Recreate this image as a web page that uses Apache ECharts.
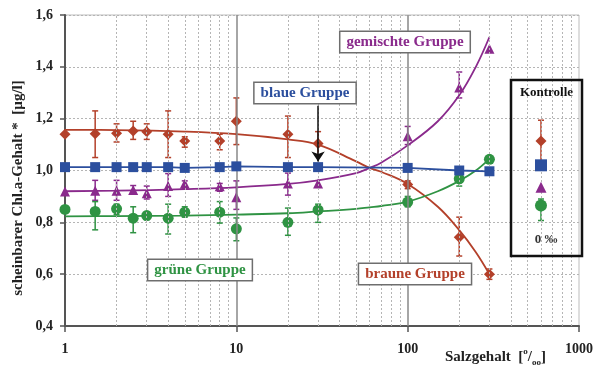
<!DOCTYPE html>
<html>
<head>
<meta charset="utf-8">
<script src="https://cdn.jsdelivr.net/npm/echarts@6/dist/echarts.min.js"></script>
<style>
  html, body { margin: 0; padding: 0; background: #fff; }
  #chart { width: 596px; height: 367px; }
</style>
</head>
<body>
<div id="chart"></div>
<script>
// Salzgehalt (x) der Messpunkte
const salz = [1, 1.5, 2, 2.5, 3, 4, 5, 8, 10, 20, 30, 100, 200, 300];

// braune Gruppe
const braun   = [1.14, 1.142, 1.144, 1.152, 1.15, 1.14, 1.114, 1.114, 1.19, 1.14, 1.104, 0.946, 0.742, 0.60];
const braunLo = [null, 1.05, 1.11, 1.12, 1.12, 1.05, 1.09, 1.08, 1.10, 1.05, 1.06, 0.93, 0.67, 0.58];
const braunHi = [null, 1.23, 1.18, 1.19, 1.18, 1.23, 1.13, 1.14, 1.28, 1.21, 1.15, 0.96, 0.82, 0.62];

// blaue Gruppe
const blau = [1.013, 1.013, 1.013, 1.013, 1.013, 1.013, 1.01, 1.013, 1.016, 1.013, 1.013, 1.01, 1.0, 0.997];

// gemischte Gruppe
const lila   = [0.919, 0.922, 0.922, 0.925, 0.912, 0.94, 0.949, 0.939, 0.897, 0.95, 0.95, 1.132, 1.32, 1.47];
const lilaLo = [null, 0.885, 0.885, 0.91, 0.89, 0.90, 0.93, 0.92, 0.85, 0.905, null, 1.10, 1.28, null];
const lilaHi = [null, 0.962, 0.962, 0.942, 0.94, 0.988, 0.96, 0.95, 0.96, 0.99, null, 1.17, 1.38, null];

// grüne Gruppe
const gruen   = [0.85, 0.842, 0.852, 0.816, 0.826, 0.816, 0.839, 0.839, 0.775, 0.80, 0.848, 0.878, 0.968, 1.043];
const gruenLo = [null, 0.771, 0.83, 0.76, 0.81, 0.755, 0.82, 0.797, 0.729, 0.75, 0.80, 0.86, 0.94, null];
const gruenHi = [null, 0.88, 0.87, 0.86, 0.84, 0.87, 0.86, 0.88, 0.817, 0.855, 0.87, 0.90, 0.99, null];

// Ausgleichskurven
const fitX     = [1, 2, 5, 10, 20, 30, 50, 60, 70, 100, 150, 200, 250, 300];
const braunFit = [1.157, 1.156, 1.15, 1.14, 1.12, 1.10, 1.035, 1.01, 0.995, 0.948, 0.86, 0.77, 0.685, 0.60];
const lilaFit  = [0.92, 0.922, 0.928, 0.935, 0.948, 0.962, 0.99, 1.01, 1.03, 1.097, 1.19, 1.29, 1.40, 1.515];
const gruenFit = [0.823, 0.824, 0.826, 0.83, 0.835, 0.842, 0.852, 0.858, 0.863, 0.88, 0.92, 0.96, 1.0, 1.045];

// Kontrolle (0 ‰), im Kasten bei x = 600 gezeichnet
const kontrollX = 600;
const kontrolle = { braun: 1.114, blau: 1.02, lila: 0.935, gruen: 0.865 };
const kontrolleLo = { braun: 1.03, gruen: 0.807 };
const kontrolleHi = { braun: 1.194, gruen: 0.89 };

// Gitter
const minorX = [2, 3, 4, 5, 6, 7, 8, 9, 20, 30, 40, 50, 60, 70, 80, 90, 200, 300, 400, 500, 600, 700, 800, 900];
const majorX = [10, 100];

const C = {
  braun: '#b3402a',
  blau: '#2c4f9e',
  lila: '#8a2a8c',
  gruen: '#2f9343',
};
const serif = '"Liberation Serif", "DejaVu Serif", serif';

function pairs(xs, ys) {
  return xs.map((x, i) => [x, ys[i]]);
}

function errData(xs, lo, hi) {
  const out = [];
  xs.forEach((x, i) => {
    if (lo[i] != null && hi[i] != null) out.push([x, lo[i], hi[i]]);
  });
  return out;
}

function errorSeries(data, color) {
  return {
    type: 'custom',
    data: data,
    z: 3,
    silent: true,
    encode: { x: 0, y: [1, 2] },
    renderItem(params, api) {
      const x = api.value(0);
      const lo = api.coord([x, api.value(1)]);
      const hi = api.coord([x, api.value(2)]);
      const w = 3;
      const style = { stroke: color, lineWidth: 1.5 };
      return {
        type: 'group',
        children: [
          { type: 'line', shape: { x1: lo[0], y1: lo[1], x2: hi[0], y2: hi[1] }, style },
          { type: 'line', shape: { x1: lo[0] - w, y1: lo[1], x2: lo[0] + w, y2: lo[1] }, style },
          { type: 'line', shape: { x1: hi[0] - w, y1: hi[1], x2: hi[0] + w, y2: hi[1] }, style },
        ],
      };
    },
  };
}

function fitSeries(ys, color) {
  return {
    type: 'line',
    data: pairs(fitX, ys),
    smooth: 0.4,
    symbol: 'none',
    z: 2,
    lineStyle: { color: color, width: 1.8 },
    silent: true,
  };
}

function pointSeries(ys, color, symbol, size) {
  return {
    type: 'scatter',
    data: pairs(salz, ys),
    symbol: symbol,
    symbolSize: size,
    itemStyle: { color: color, opacity: 1 },
    z: 4,
    clip: false,
  };
}

function boxLabel(text, cx, cy, color) {
  return {
    type: 'text',
    x: cx,
    y: cy,
    z: 20,
    style: {
      text: text,
      align: 'center',
      verticalAlign: 'middle',
      font: 'bold 15px ' + serif,
      fill: color,
      backgroundColor: '#fff',
      borderColor: '#6e6e6e',
      borderWidth: 1.5,
      padding: [3, 6, 2, 6],
    },
  };
}

const chart = echarts.init(document.getElementById('chart'));

const option = {
  animation: false,
  grid: {
    left: 65, right: 14, top: 15, bottom: 41,
    show: true,
    borderColor: '#bdbdbd',
    borderWidth: 1,
  },
  xAxis: {
    type: 'log',
    logBase: 10,
    min: 1,
    max: 1000,
    axisLine: { lineStyle: { color: '#555', width: 2 } },
    axisTick: { show: true, length: 6, lineStyle: { color: '#555', width: 1.5 } },
    axisLabel: {
      margin: 16,
      fontFamily: serif, fontWeight: 'bold', fontSize: 14, color: '#222',
      formatter: (v) => String(Math.round(v)),
    },
    splitLine: { show: false },
  },
  yAxis: {
    type: 'value',
    min: 0.4,
    max: 1.6,
    interval: 0.2,
    axisLine: { show: true, lineStyle: { color: '#555', width: 2 } },
    axisTick: { show: true, length: 5, lineStyle: { color: '#555', width: 1.5 } },
    axisLabel: {
      margin: 12,
      fontFamily: serif, fontWeight: 'bold', fontSize: 14, color: '#222',
      formatter: (v) => v.toFixed(1).replace('.', ','),
    },
    splitLine: { show: true, lineStyle: { color: '#b5b5b5', type: [2, 2], width: 1 } },
  },
  graphic: [
    {
      type: 'text', x: 18, y: 188, rotation: Math.PI / 2, z: 21,
      style: {
        text: 'scheinbarer Chl.a-Gehalt *  [µg/l]',
        align: 'center', verticalAlign: 'middle',
        font: 'bold 15px ' + serif, fill: '#222',
      },
    },
    boxLabel('blaue Gruppe', 305, 93, C.blau),
    boxLabel('gemischte Gruppe', 405, 42, C.lila),
    boxLabel('grüne Gruppe', 200, 270, C.gruen),
    boxLabel('braune Gruppe', 415, 274, C.braun),
    {
      type: 'rect',
      shape: { x: 511, y: 80, width: 71, height: 176 },
      style: { fill: 'none', stroke: '#111', lineWidth: 2.5 },
      z: 20,
    },
    {
      type: 'text', x: 546.5, y: 93, z: 21,
      style: {
        text: 'Kontrolle', align: 'center', verticalAlign: 'middle',
        font: 'bold 13px ' + serif, fill: '#111',
      },
    },
    {
      type: 'text', x: 546, y: 240, z: 21,
      style: {
        text: '0 ‰', align: 'center', verticalAlign: 'middle',
        font: 'bold 13px ' + serif, fill: '#333',
      },
    },
    {
      type: 'text', x: 445, y: 357, z: 21,
      style: {
        text: 'Salzgehalt  [{sup|o}/{sub|oo}]',
        verticalAlign: 'middle',
        font: 'bold 15px ' + serif, fill: '#222',
        lineHeight: 20,
        rich: {
          sup: { fontSize: 9, fontWeight: 'bold', fontFamily: serif, fill: '#222', verticalAlign: 'top', lineHeight: 20 },
          sub: { fontSize: 9, fontWeight: 'bold', fontFamily: serif, fill: '#222', verticalAlign: 'bottom', lineHeight: 20 },
        },
      },
    },
  ],
  series: [
    // Gitterlinien
    {
      type: 'line',
      data: [],
      silent: true,
      z: 1,
      markLine: {
        silent: true,
        symbol: 'none',
        label: { show: false },
        animation: false,
        lineStyle: { color: '#b5b5b5', type: [2, 2], width: 1 },
        data: minorX.map((v) => ({ xAxis: v })),
      },
    },
    {
      type: 'line',
      data: [],
      silent: true,
      z: 1,
      markLine: {
        silent: true,
        symbol: 'none',
        label: { show: false },
        animation: false,
        lineStyle: { color: '#888', type: 'solid', width: 1.5 },
        data: majorX.map((v) => ({ xAxis: v })),
      },
    },
    fitSeries(braunFit, C.braun),
    fitSeries(lilaFit, C.lila),
    fitSeries(gruenFit, C.gruen),
    errorSeries(errData(salz, braunLo, braunHi), C.braun),
    errorSeries(errData(salz, lilaLo, lilaHi), C.lila),
    errorSeries(errData(salz, gruenLo, gruenHi), C.gruen),
    pointSeries(braun, C.braun, 'diamond', 11),
    pointSeries(lila, C.lila, 'triangle', 10),
    pointSeries(gruen, C.gruen, 'circle', 11),
    {
      type: 'line',
      data: pairs(salz, blau),
      symbol: 'rect',
      symbolSize: 10,
      itemStyle: { color: C.blau, opacity: 1 },
      lineStyle: { color: C.blau, width: 1.8 },
      z: 5,
      markLine: {
        silent: true,
        symbol: ['none', 'arrow'],
        symbolSize: 10,
        label: { show: false },
        lineStyle: { color: '#111', type: 'solid', width: 1.5 },
        data: [[{ coord: [30, 1.25] }, { coord: [30, 1.035] }]],
      },
    },
    // Kontrolle
    errorSeries([[kontrollX, kontrolleLo.braun, kontrolleHi.braun]], C.braun),
    errorSeries([[kontrollX, kontrolleLo.gruen, kontrolleHi.gruen]], C.gruen),
    {
      type: 'scatter',
      z: 6,
      itemStyle: { opacity: 1 },
      data: [
        { value: [kontrollX, kontrolle.braun], symbol: 'diamond', symbolSize: 11, itemStyle: { color: C.braun, opacity: 1 } },
        { value: [kontrollX, kontrolle.blau], symbol: 'rect', symbolSize: 12, itemStyle: { color: C.blau, opacity: 1 } },
        { value: [kontrollX, kontrolle.lila], symbol: 'triangle', symbolSize: 11, itemStyle: { color: C.lila, opacity: 1 } },
        { value: [kontrollX, kontrolle.gruen], symbol: 'circle', symbolSize: 12, itemStyle: { color: C.gruen, opacity: 1 } },
      ],
    },
  ],
};

chart.setOption(option);
</script>
</body>
</html>
